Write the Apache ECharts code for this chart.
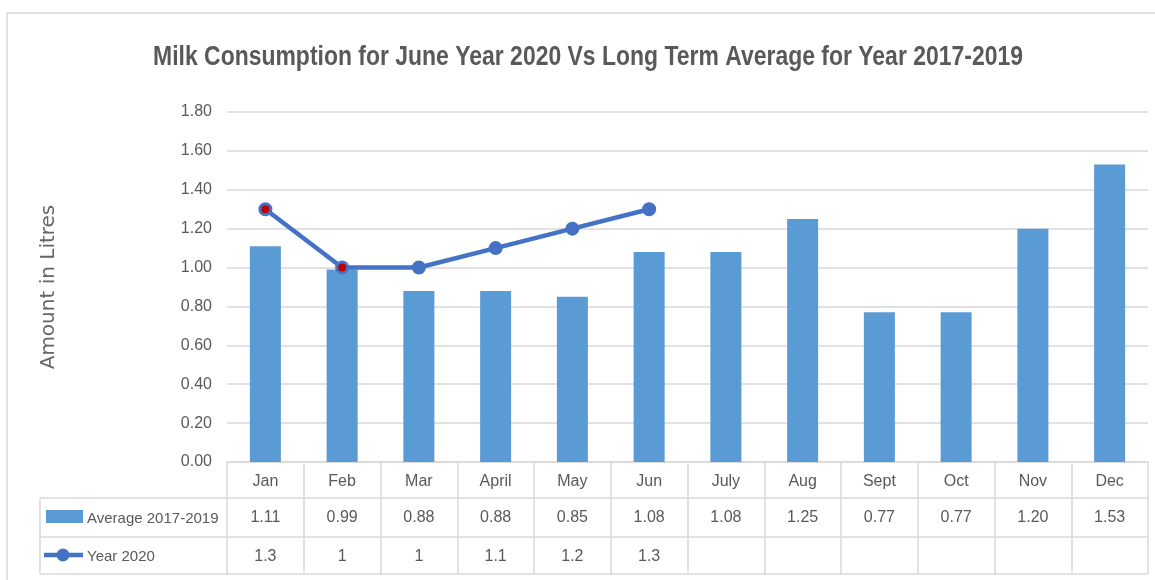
<!DOCTYPE html>
<html>
<head>
<meta charset="utf-8">
<script src="https://cdn.jsdelivr.net/npm/echarts@6/dist/echarts.min.js"></script>
<style>
  html, body { margin: 0; padding: 0; background: #fff; }
  #main { width: 1155px; height: 580px; }
</style>
</head>
<body>
<div id="main"></div>
<script>
// data
const months = ["Jan", "Feb", "Mar", "April", "May", "Jun", "July", "Aug", "Sept", "Oct", "Nov", "Dec"];
const average = [1.11, 0.99, 0.88, 0.88, 0.85, 1.08, 1.08, 1.25, 0.77, 0.77, 1.20, 1.53];
const year2020 = [1.3, 1, 1, 1.1, 1.2, 1.3];
const redMarkers = ["Jan", "Feb"];
const yTicks = { min: 0, max: 1.8, step: 0.2 };

const FONT = '"Liberation Sans", Arial, sans-serif';
const GREY = "#595959";
const RULE = "#d9d9d9";
const BAR = "#5b9bd5";
const LINE = "#4472c4";

// table geometry
const gridL = 227, gridR = 1148, axisY = 462;
const row1 = 498, row2 = 537, row3 = 574, tableL = 40;

let chart = echarts.init(document.getElementById("main"));

const hline = (x1, x2, y) => ({
  type: "line", shape: { x1, y1: y, x2, y2: y },
  style: { stroke: RULE, lineWidth: 1.5 }, silent: true,
});
const vline = (x, y1, y2) => ({
  type: "line", shape: { x1: x, y1, x2: x, y2 },
  style: { stroke: RULE, lineWidth: 1.5 }, silent: true,
});

const cellLabel = { margin: 12, color: GREY, fontFamily: FONT, fontSize: 16 };

let option = {
  animation: false,
  grid: { left: gridL, right: 1155 - gridR, top: 112, bottom: 580 - axisY },
  xAxis: [
    {
      type: "category",
      data: months,
      axisLine: { lineStyle: { color: RULE, width: 1.5 } },
      axisTick: { show: true, length: row3 - axisY, lineStyle: { color: RULE, width: 1.5 } },
      axisLabel: cellLabel,
    },
    {
      type: "category",
      position: "bottom",
      offset: row1 - axisY,
      data: average.map((v) => v.toFixed(2)),
      axisLine: { show: false },
      axisTick: { show: false },
      axisLabel: cellLabel,
    },
    {
      type: "category",
      position: "bottom",
      offset: row2 - axisY,
      data: months.map((m, i) => (i < year2020.length ? String(year2020[i]) : "")),
      axisLine: { show: false },
      axisTick: { show: false },
      axisLabel: cellLabel,
    },
  ],
  yAxis: {
    type: "value",
    min: yTicks.min,
    max: yTicks.max,
    interval: yTicks.step,
    name: "Amount in Litres",
    nameLocation: "middle",
    nameGap: 168,
    nameTextStyle: { fontFamily: "DejaVu Sans", fontSize: 20, color: "#666666" },
    axisLine: { show: false },
    axisTick: { show: false },
    axisLabel: {
      margin: 15, color: GREY, fontFamily: FONT, fontSize: 16,
      formatter: (v) => v.toFixed(2),
    },
    splitLine: { lineStyle: { color: RULE, width: 1.5 } },
  },
  series: [
    {
      name: "Average 2017-2019",
      type: "bar",
      data: average,
      barWidth: 31,
      itemStyle: { color: BAR },
    },
    {
      name: "Year 2020",
      type: "line",
      data: year2020.map((v, i) =>
        redMarkers.includes(months[i])
          ? { value: v, itemStyle: { color: "#c00000", borderColor: LINE, borderWidth: 3 } }
          : v
      ),
      symbol: "circle",
      symbolSize: 11,
      lineStyle: { color: LINE, width: 4.5 },
      itemStyle: { color: LINE, borderColor: LINE, borderWidth: 3 },
      z: 5,
    },
  ],
  graphic: [
    // title, squeezed a little to mimic the narrow original face
    {
      type: "text", x: 588, y: 58, scaleX: 0.85,
      style: {
        text: "Milk Consumption for June Year 2020 Vs Long Term Average for Year 2017-2019",
        font: "bold 27px " + FONT, fill: GREY, align: "center", verticalAlign: "middle",
      },
    },
    // outer frame
    hline(7, 1155, 13),
    vline(7, 13, 580),
    // data table rules
    hline(tableL, gridR, row1),
    hline(tableL, gridR, row2),
    hline(tableL, gridR, row3),
    vline(tableL, row1, row3),
    // legend keys
    {
      type: "rect", shape: { x: 46, y: 510, width: 37, height: 13 },
      style: { fill: BAR }, silent: true,
    },
    {
      type: "line", shape: { x1: 44, y1: 555, x2: 83, y2: 555 },
      style: { stroke: LINE, lineWidth: 4.5 }, silent: true,
    },
    {
      type: "circle", shape: { cx: 63, cy: 555, r: 6.5 },
      style: { fill: LINE }, silent: true,
    },
    {
      type: "text", x: 87, y: (row1 + row2) / 2 + 1,
      style: { text: "Average 2017-2019", font: "15px " + FONT, fill: GREY, verticalAlign: "middle" },
    },
    {
      type: "text", x: 87, y: (row2 + row3) / 2 + 1,
      style: { text: "Year 2020", font: "15px " + FONT, fill: GREY, verticalAlign: "middle" },
    },
  ],
};

chart.setOption(option);
</script>
</body>
</html>
